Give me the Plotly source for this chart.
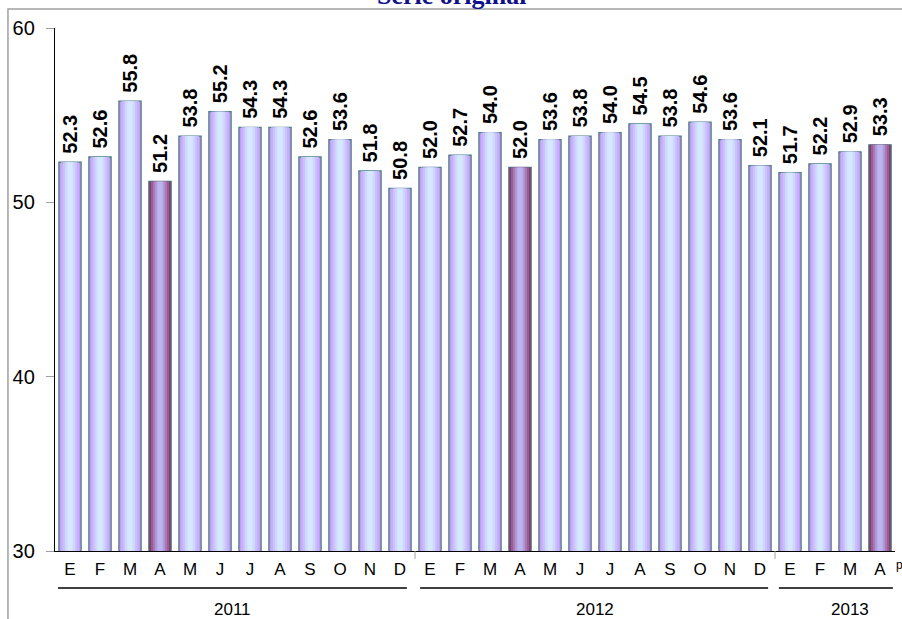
import plotly.graph_objects as go

months = ["E", "F", "M", "A", "M", "J", "J", "A", "S", "O", "N", "D",
          "E", "F", "M", "A", "M", "J", "J", "A", "S", "O", "N", "D",
          "E", "F", "M", "A"]
values_2011 = [52.3, 52.6, 55.8, 51.2, 53.8, 55.2, 54.3, 54.3, 52.6, 53.6, 51.8, 50.8]
values_2012 = [52.0, 52.7, 54.0, 52.0, 53.6, 53.8, 54.0, 54.5, 53.8, 54.6, 53.6, 52.1]
values_2013 = [51.7, 52.2, 52.9, 53.3]
years = ["2011", "2012", "2013"]
y_ticks = [30, 40, 50, 60]

values = values_2011 + values_2012 + values_2013
x = list(range(len(values)))
is_april = [(i % 12) == 3 for i in range(len(values))]

def colors(normal, april):
    return [april if a else normal for a in is_april]

fig = go.Figure()
# layered bars to mimic the horizontal gradient fill
layers = [
    (0.74, "#C29CF8", "#8A3A6E"),
    (0.60, "#C6B0FA", "#9A5C94"),
    (0.46, "#CBC4FC", "#A87CB6"),
    (0.32, "#D0D8FE", "#B29AD6"),
    (0.18, "#D4E8FF", "#BAB4F0"),
]
for i, (w, cn, ca) in enumerate(layers):
    line = dict(color=colors("#4C8083", "#4C6E78"), width=1.3) if i == 0 else dict(width=0)
    fig.add_trace(go.Bar(x=x, y=values, width=w,
                         marker=dict(color=colors(cn, ca), line=line),
                         hoverinfo="skip", showlegend=False))

shapes = []
# outer chart border
shapes.append(dict(type="rect", xref="paper", yref="paper",
                   x0=-0.056, x1=1.3, y0=-0.3, y1=1.0363,
                   line=dict(color="#A0A0A0", width=1.5), fillcolor="rgba(0,0,0,0)", layer="below"))
# group separator ticks
for sx in [11.5, 23.5]:
    shapes.append(dict(type="line", xref="x", yref="paper", x0=sx, x1=sx, y0=0, y1=-0.015,
                       line=dict(color="#A0A0A0", width=1)))
# year lines
year_spans = [(-0.4, 11.23), (11.67, 23.27), (23.63, 27.43)]
for a, b in year_spans:
    shapes.append(dict(type="line", xref="x", yref="paper", x0=a, x1=b, y0=-0.0707, y1=-0.0707,
                       line=dict(color="black", width=1.3)))

annotations = []
# value labels
for xi, v in zip(x, values):
    annotations.append(dict(text=f"<b>{v:.1f}</b>", x=xi, xref="x", y=v, yref="y",
                            showarrow=False, textangle=-90, xanchor="center", yanchor="bottom",
                            yshift=6,
                            font=dict(family="Arial, Liberation Sans", size=20, color="black")))
year_centers = [5.4, 17.5, 26.0]
for yr, cx in zip(years, year_centers):
    annotations.append(dict(text=yr, x=cx, xref="x", y=-0.1128, yref="paper",
                            showarrow=False, xanchor="center", yanchor="middle",
                            font=dict(family="Arial, Liberation Sans", size=17, color="black")))
annotations.append(dict(text="p", x=(899 - 55) / 840, xref="paper", y=-0.026, yref="paper",
                        showarrow=False, xanchor="center", yanchor="middle",
                        font=dict(family="Arial, Liberation Sans", size=12, color="black")))
# title
annotations.append(dict(text="<b>Serie original</b>", x=(451 - 55) / 840, xref="paper",
                        y=1.062, yref="paper", showarrow=False, xanchor="center", yanchor="middle",
                        font=dict(family="Times New Roman, Liberation Serif", size=26, color="#10108A")))

fig.update_layout(
    width=902, height=619, autosize=False,
    margin=dict(l=55, r=7, t=28, b=68),
    paper_bgcolor="white", plot_bgcolor="white",
    barmode="overlay",
    shapes=shapes, annotations=annotations,
    xaxis=dict(range=[-0.5, 27.5], tickmode="array", tickvals=x, ticktext=months,
               ticks="outside", ticklen=2, tickcolor="rgba(0,0,0,0)",
               showline=True, linecolor="black", linewidth=1.3, showgrid=False, zeroline=False,
               tickfont=dict(family="Arial, Liberation Sans", size=17, color="black")),
    yaxis=dict(range=[30, 60], tickvals=y_ticks, ticks="outside", ticklen=8, tickcolor="#A0A0A0",
               ticklabelstandoff=7,
               showline=True, linecolor="black", linewidth=1.3, showgrid=False, zeroline=False,
               tickfont=dict(family="Arial, Liberation Sans", size=20, color="black")),
)

fig.write_html("out.html", config={"displayModeBar": False},
               post_script="document.body.style.margin='0px';")
